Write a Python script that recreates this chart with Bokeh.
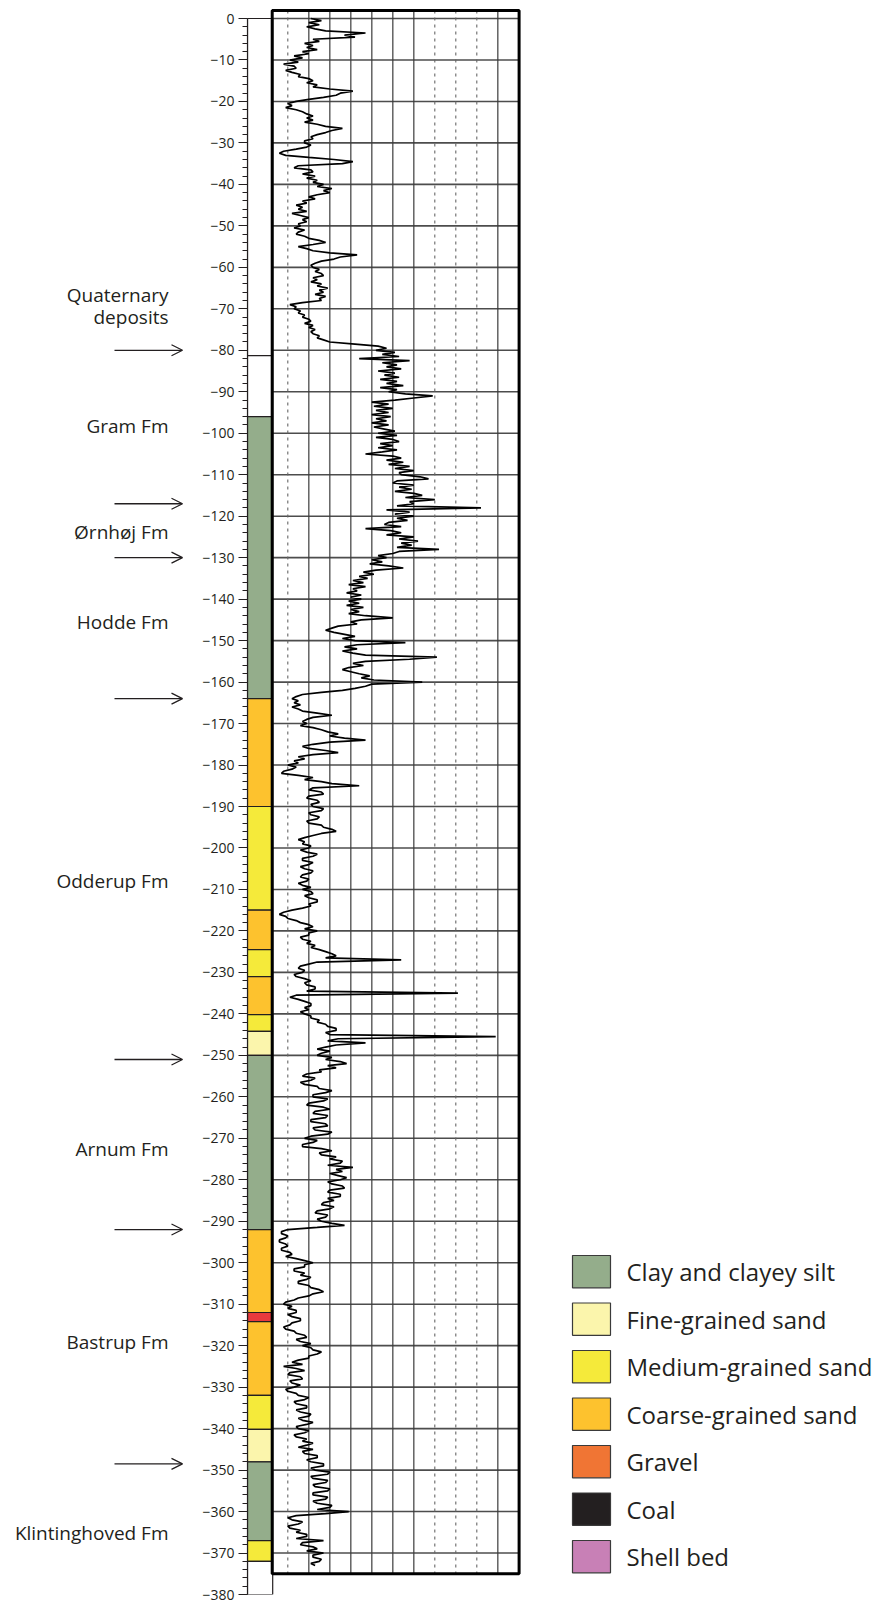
from bokeh.plotting import figure
from bokeh.models import Range1d, SingleIntervalTicker, Arrow, OpenHead, ColumnDataSource
from bokeh.layouts import row
from bokeh.core.properties import value
from bokeh.embed import file_html
from bokeh.resources import INLINE

# ---------------- data ----------------
# gamma-ray style log, one reading every half metre from 0 m down to -373 m
log_step = 0.5
log_values = [
    21, 26, 20, 25, 19, 23, 28, 47, 37, 42, 22, 25, 18, 22, 19, 24, 17, 20, 13, 17,    # 0-10
    11, 15, 8, 13, 14, 9, 12, 16, 15, 20, 22, 19, 24, 22, 30, 41, 35, 33, 27, 20,      # 10-20
    14, 10, 12, 9, 14, 17, 19, 22, 19, 22, 18, 24, 28, 36, 31, 28, 24, 21, 22, 18,     # 20-30
    18, 21, 19, 14, 8, 6, 9, 20, 32, 41, 36, 15, 13, 21, 22, 17, 23, 19, 24, 22,       # 30-40
    27, 24, 31, 27, 30, 24, 20, 23, 17, 19, 14, 17, 15, 19, 12, 16, 20, 17, 19, 15,    # 40-50
    16, 13, 18, 15, 14, 18, 20, 25, 28, 22, 15, 19, 22, 30, 43, 35, 32, 26, 23, 21,    # 50-60
    22, 25, 23, 26, 27, 22, 24, 21, 26, 24, 29, 25, 27, 23, 28, 25, 26, 17, 11, 14,    # 60-70
    13, 16, 15, 18, 17, 20, 21, 18, 22, 20, 23, 21, 22, 25, 24, 27, 30, 42, 53, 57,    # 70-80
    52, 61, 55, 63, 44, 68, 55, 62, 57, 64, 53, 61, 56, 63, 54, 62, 57, 65, 54, 62,    # 80-90
    58, 66, 79, 70, 61, 50, 58, 51, 60, 52, 58, 50, 59, 52, 57, 50, 58, 51, 56, 61,    # 90-100
    53, 62, 52, 60, 63, 54, 60, 53, 62, 55, 47, 60, 64, 57, 65, 58, 68, 61, 70, 63,    # 100-110
    64, 73, 77, 62, 60, 70, 63, 69, 61, 70, 74, 66, 80, 68, 70, 62, 102, 57, 68, 61,   # 110-120
    70, 62, 67, 58, 56, 64, 47, 59, 64, 57, 70, 63, 72, 64, 69, 62, 82, 63, 60, 53,    # 120-130
    57, 50, 55, 49, 58, 65, 52, 46, 51, 44, 48, 41, 46, 39, 47, 41, 43, 38, 45, 40,    # 130-140
    45, 39, 44, 38, 46, 40, 44, 39, 47, 60, 45, 40, 43, 34, 31, 28, 32, 37, 42, 36,    # 140-150
    42, 66, 43, 37, 43, 36, 41, 47, 81, 68, 47, 41, 46, 39, 36, 40, 44, 49, 45, 51,    # 150-160
    74, 50, 47, 42, 36, 26, 17, 14, 12, 15, 13, 16, 12, 15, 17, 24, 31, 22, 19, 17,    # 160-170
    19, 16, 22, 26, 29, 34, 30, 37, 47, 30, 22, 17, 20, 28, 34, 22, 15, 18, 13, 15,    # 170-180
    10, 14, 12, 8, 7, 15, 22, 18, 26, 31, 44, 22, 20, 26, 27, 20, 19, 24, 25, 21,      # 180-190
    22, 27, 26, 20, 21, 25, 24, 19, 20, 26, 27, 31, 33, 26, 22, 18, 15, 18, 17, 21,    # 190-200
    20, 16, 19, 24, 22, 17, 17, 22, 20, 16, 18, 22, 21, 17, 16, 20, 19, 15, 17, 21,    # 200-210
    17, 21, 22, 18, 20, 24, 24, 20, 21, 17, 12, 8, 6, 9, 10, 14, 16, 20, 22, 18,       # 210-220
    24, 20, 20, 16, 17, 21, 19, 23, 21, 25, 28, 31, 33, 28, 64, 24, 20, 16, 15, 18,    # 220-230
    17, 13, 14, 18, 21, 18, 19, 23, 23, 19, 91, 14, 11, 15, 18, 21, 21, 18, 20, 16,    # 230-240
    18, 21, 21, 25, 24, 28, 29, 33, 33, 28, 30, 109, 34, 29, 47, 33, 28, 24, 30, 26,   # 240-250
    24, 31, 28, 35, 38, 29, 33, 25, 26, 19, 17, 23, 21, 16, 18, 24, 25, 31, 28, 22,    # 250-260
    22, 29, 27, 20, 19, 27, 30, 23, 22, 29, 28, 21, 21, 28, 29, 22, 23, 31, 29, 21,    # 260-270
    18, 24, 22, 17, 17, 26, 31, 25, 26, 33, 30, 36, 35, 29, 41, 33, 36, 30, 34, 38,    # 270-280
    35, 29, 31, 36, 37, 30, 29, 35, 35, 29, 32, 27, 26, 32, 30, 24, 23, 29, 28, 24,    # 280-290
    26, 31, 37, 24, 10, 7, 7, 10, 9, 6, 6, 9, 10, 7, 7, 11, 12, 9, 14, 18,             # 290-300
    22, 18, 18, 13, 13, 18, 16, 21, 19, 15, 15, 20, 21, 25, 27, 22, 20, 15, 13, 9,     # 300-310
    8, 12, 10, 14, 14, 10, 12, 16, 16, 12, 11, 8, 9, 13, 14, 18, 19, 14, 16, 21,       # 310-320
    17, 21, 22, 26, 24, 20, 20, 15, 12, 17, 8, 14, 18, 11, 10, 16, 17, 11, 12, 16,     # 320-330
    13, 9, 10, 14, 15, 20, 18, 13, 14, 19, 19, 14, 16, 21, 20, 15, 17, 22, 19, 14,     # 330-340
    15, 20, 18, 13, 14, 19, 17, 22, 19, 15, 22, 17, 18, 24, 24, 19, 21, 27, 27, 21,    # 340-350
    23, 30, 29, 21, 22, 29, 28, 22, 23, 30, 29, 22, 22, 29, 28, 22, 24, 31, 30, 24,    # 350-360
    39, 28, 14, 10, 12, 17, 15, 10, 11, 16, 14, 19, 19, 14, 27, 17, 16, 22, 24, 19,    # 360-370
    27, 22, 22, 26, 25, 21, 23,                                                        # 370-373
]
log_depths = [-i * log_step for i in range(len(log_values))]

# lithological column
layer_top = [0, -81.3, -96, -164, -190, -215, -224.5, -231, -240.2, -244.2, -250,
             -292, -312, -314.2, -332, -340.2, -348, -367, -372]
layer_base = [-81.3, -96, -164, -190, -215, -224.5, -231, -240.2, -244.2, -250, -292,
              -312, -314.2, -332, -340.2, -348, -367, -372, -380]
layer_color = ["#ffffff", "#ffffff", "#94ad8b", "#fdc22e", "#f5ea3a", "#fdc22e", "#f5ea3a",
               "#fdc22e", "#f5ea3a", "#fbf5ac", "#94ad8b", "#fdc22e", "#e8393d", "#fdc22e",
               "#f5ea3a", "#fbf5ac", "#94ad8b", "#f5ea3a", "#ffffff"]

# formations (label centre depths and boundary arrows)
formation_names = ["Quaternary", "deposits", "Gram Fm", "\u00d8rnh\u00f8j Fm", "Hodde Fm",
                   "Odderup Fm", "Arnum Fm", "Bastrup Fm", "Klintinghoved Fm"]
formation_label_depth = [-66.6, -72.0, -98.3, -123.7, -145.4, -208.0, -272.6, -319.2, -365.1]
boundary_depths = [-80, -117, -130, -164, -251, -292, -348.5]

# legend
legend_names = ["Clay and clayey silt", "Fine-grained sand", "Medium-grained sand",
                "Coarse-grained sand", "Gravel", "Coal", "Shell bed"]
legend_colors = ["#94ad8b", "#fbf5ac", "#f5ea3a", "#fdc22e", "#f07534", "#231f20", "#c880b6"]

# log grid
grid_depths = list(range(0, -371, -10))
grid_solid_x = [20, 30, 40, 50, 60, 70, 110]
grid_dotted_x = [10, 80, 90, 100]

# ---------------- layout constants ----------------
FONT = "Open Sans"
INK = "#231f20"
H = 1603
Y0 = 18.0                      # page y of 0 m
YB = 1594.0                    # page y of -380 m
PX_M = (YB - Y0) / 380.0
BB = int(H - YB)
TOP = Y0 / PX_M
PANEL_TOP = (Y0 - 10.0) / PX_M
PANEL_BOT = -375.0


def gx(px):
    return (px - 266.3) / 2.1


yr = Range1d(-380, TOP)

common = dict(height=H, output_backend="svg", toolbar_location=None,
              x_axis_location=None, min_border_top=0, min_border_bottom=BB,
              min_border_right=0)

# ---------------- left: formation labels ----------------
pl = figure(width=187, x_range=Range1d(0, 187), y_range=yr, y_axis_location=None,
            min_border_left=0, **common)
pl.grid.visible = False
pl.outline_line_color = None
pl.text(x=168, y=formation_label_depth, text=formation_names, text_align="right",
        text_baseline="middle", text_font=value(FONT), text_font_size="19px",
        text_color=INK)
asrc = ColumnDataSource(dict(x0=[114] * len(boundary_depths), x1=[182] * len(boundary_depths),
                             y=boundary_depths))
pl.add_layout(Arrow(source=asrc, x_start="x0", x_end="x1", y_start="y", y_end="y",
                    line_width=1.3, line_color=INK,
                    end=OpenHead(size=11, line_width=1.3, line_color=INK)))

# ---------------- middle: column + log ----------------
pm = figure(width=335, x_range=Range1d(gx(247), gx(522)), y_range=yr,
            min_border_left=60, **common)
pm.grid.visible = False
pm.outline_line_color = None
ax = pm.yaxis[0]
ax.ticker = SingleIntervalTicker(interval=10, num_minor_ticks=5)
ax.bounds = (-380, 0)
ax.major_tick_out = 9
ax.major_tick_in = 0
ax.minor_tick_out = 5
ax.minor_tick_in = 0
ax.axis_line_width = 1.2
ax.axis_line_color = INK
ax.major_tick_line_color = INK
ax.minor_tick_line_color = INK
ax.major_tick_line_width = 1.1
ax.minor_tick_line_width = 1.0
ax.major_label_standoff = 4
ax.major_label_text_font = FONT
ax.major_label_text_font_size = "14px"
ax.major_label_text_color = INK

pm.quad(left=gx(247), right=gx(272.2), top=layer_top, bottom=layer_base,
        fill_color=layer_color, line_color=INK, line_width=1.2)

pm.segment(x0=gx(272), x1=gx(518.5), y0=grid_depths, y1=grid_depths,
           line_color="#2e2e2e", line_width=1.6, line_alpha=0.85)
pm.segment(x0=grid_solid_x, x1=grid_solid_x, y0=PANEL_TOP, y1=PANEL_BOT,
           line_color="#3a3a3a", line_width=1.4, line_alpha=0.85)
pm.segment(x0=grid_dotted_x, x1=grid_dotted_x, y0=PANEL_TOP, y1=PANEL_BOT,
           line_color="#666666", line_width=1.1, line_dash="3 4")

pm.line(x=log_values, y=log_depths, line_color="#000000", line_width=1.7)

pm.quad(left=gx(271.7), right=gx(518.6), top=PANEL_TOP, bottom=PANEL_BOT,
        fill_color=None, line_color="#000000", line_width=3)

# ---------------- right: legend ----------------
pr = figure(width=358, x_range=Range1d(522, 880), y_range=Range1d(YB, 0),
            y_axis_location=None, min_border_left=0, **common)
pr.grid.visible = False
pr.outline_line_color = None
n = len(legend_names)
box_top = [1255 + 47.5 * i for i in range(n)]
box_bot = [t + 32.3 for t in box_top]
pr.quad(left=572, right=610, top=box_top, bottom=box_bot, fill_color=legend_colors,
        line_color="#3a3a3a", line_width=1.2)
pr.text(x=626, y=[t + 16.2 for t in box_top], text=legend_names, text_align="left",
        text_baseline="middle", text_font=value(FONT), text_font_size="24px",
        text_color=INK)

layout = row(pl, pm, pr)
open("out.html", "w").write(file_html(layout, INLINE))
